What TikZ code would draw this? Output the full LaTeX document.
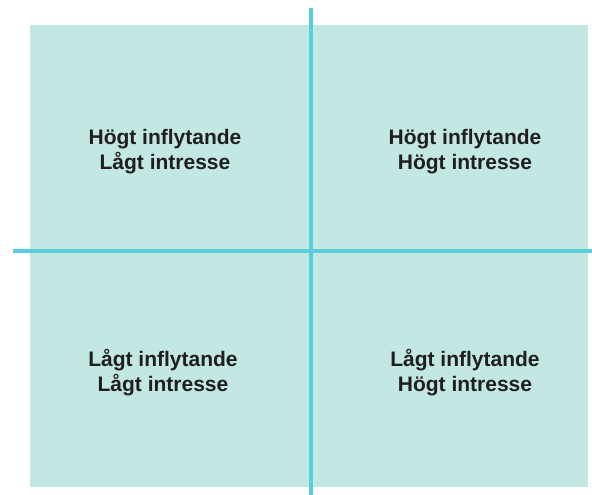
\documentclass[tikz,border=0pt]{standalone}
\usepackage{fontspec}
\setmainfont{Liberation Sans}
\definecolor{quadfill}{HTML}{C3E7E3}
\definecolor{axisline}{HTML}{5ACFDA}

\begin{document}
\begin{tikzpicture}[x=1pt,y=-1pt,
    quadtext/.style={font=\bfseries\fontsize{21}{25}\selectfont, align=center, text=black!88},
    axis/.style={axisline, line width=3.5pt}]

    \useasboundingbox (0,0) rectangle (592,495);

    % background
    \fill[quadfill] (30,25) rectangle (588,487);

    % axes
    \coordinate (top) at (311,8);
    \coordinate (bottom) at (311,495);
    \coordinate (left) at (13,251);
    \coordinate (right) at (592,251);
    \draw[axis] (top) -- (bottom); % influence
    \draw[axis] (left) -- (right); % interest

    % quadrants
    \node[quadtext] (hilo) at (165,152) {Högt inflytande\\Lågt intresse};
    \node[quadtext] (hihi) at (465,152) {Högt inflytande\\Högt intresse};
    \node[quadtext] (lolo) at (163,373) {Lågt inflytande\\Lågt intresse};
    \node[quadtext] (lohi) at (465,373) {Lågt inflytande\\Högt intresse};

\end{tikzpicture}
\end{document}
